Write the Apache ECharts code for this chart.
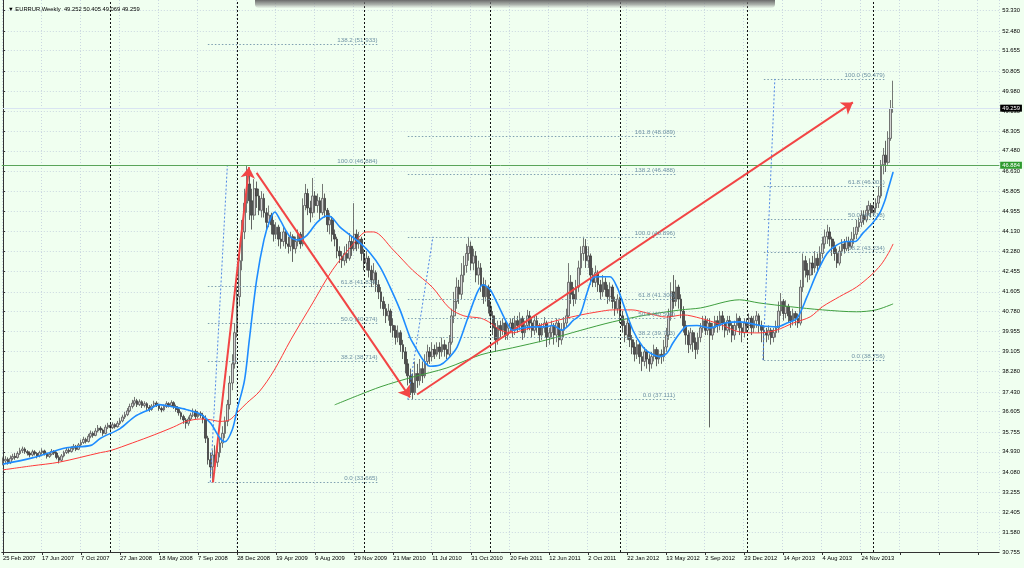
<!DOCTYPE html>
<html><head><meta charset="utf-8">
<script src="https://cdn.jsdelivr.net/npm/echarts@6/dist/echarts.min.js"></script>
<style>html,body{margin:0;padding:0;background:#f0fff0}#c{width:1024px;height:568px}</style>
</head><body><div id="c"></div>
<script>
// ---------- DATA (weekly EURRUR, bar 0 = 25 Feb 2007) ----------
const opens = [
34.50,34.55,34.62,34.48,34.66,34.74,34.70,34.86,34.98,35.05,
34.94,34.88,34.80,34.93,34.86,34.76,34.90,34.97,34.85,34.74,
34.83,34.95,34.88,34.70,34.58,34.76,34.90,35.00,34.94,35.08,
35.16,35.04,35.22,35.32,35.45,35.36,35.58,35.70,35.62,35.80,
35.92,35.84,35.70,35.96,36.04,35.94,36.06,35.98,36.12,36.22,
36.38,36.48,36.64,36.82,36.96,37.06,36.90,37.02,36.86,36.94,
36.78,36.70,36.84,36.96,36.88,36.74,36.68,36.82,36.94,36.86,
36.98,36.82,36.70,36.56,36.40,36.26,36.12,36.30,36.46,36.62,
36.40,36.54,36.46,36.30,35.50,34.60,34.30,34.80,34.50,34.90,
35.30,35.70,36.20,36.90,37.80,38.60,39.90,41.40,42.90,44.10,
45.30,46.10,45.40,44.80,45.90,45.60,45.00,45.50,44.90,44.50,
44.80,44.40,44.00,44.30,43.80,43.70,44.10,43.60,43.50,43.90,
43.40,43.70,44.00,43.60,45.20,45.70,45.10,44.90,45.60,45.20,
45.40,44.90,45.50,45.00,44.40,44.60,44.00,43.80,43.30,43.10,
42.90,43.20,43.00,43.70,43.40,44.00,43.60,43.80,43.20,42.80,
43.00,42.50,42.10,42.40,41.90,41.60,41.20,40.90,40.60,40.80,
40.20,40.00,39.70,39.90,39.40,39.10,38.60,38.10,37.80,37.40,
38.20,37.90,38.40,38.10,38.70,39.10,38.90,39.20,39.00,39.30,
39.10,39.40,39.20,39.00,39.50,40.60,41.20,41.80,41.50,42.30,
42.70,43.20,43.50,42.80,43.10,42.30,42.60,41.90,41.40,41.80,
41.00,40.60,40.10,39.60,40.20,40.00,40.30,39.80,40.10,40.30,
40.00,40.40,40.20,40.50,39.90,40.20,40.60,40.30,40.00,40.40,
40.20,39.80,40.10,40.30,39.70,39.90,40.20,39.80,40.30,39.60,
40.00,40.30,40.60,42.00,41.50,41.30,41.80,42.60,43.20,43.50,
42.90,43.10,42.30,42.00,42.40,41.90,41.60,42.00,41.70,41.40,
41.80,41.20,40.90,41.30,40.60,40.20,39.80,40.30,39.60,39.30,
39.00,39.40,38.90,38.70,39.10,38.80,38.60,38.90,39.20,38.80,
39.00,38.90,39.30,39.80,40.60,41.60,41.20,41.80,41.30,40.80,
40.20,39.80,39.40,39.90,39.50,39.20,39.70,40.10,40.40,40.00,
40.30,39.80,40.10,40.40,40.20,40.60,40.30,40.00,40.40,40.20,
39.80,40.20,40.50,40.10,39.90,40.30,40.20,40.50,40.10,40.40,
40.60,40.20,40.00,39.90,39.80,40.00,39.70,39.90,40.10,40.80,
41.20,40.70,41.00,40.60,40.40,40.70,40.50,40.30,41.80,42.90,
42.50,42.30,42.80,42.60,43.00,42.70,43.20,43.60,43.90,44.10,
43.80,43.50,43.20,42.80,43.30,43.60,43.40,43.70,43.50,43.80,
44.00,44.30,44.50,44.80,44.60,45.00,45.20,44.90,45.10,45.30,
45.60,46.90,47.30,47.00,48.00,49.252];
const closes = [
34.55,34.62,34.48,34.66,34.74,34.70,34.86,34.98,35.05,34.94,
34.88,34.80,34.93,34.86,34.76,34.90,34.97,34.85,34.74,34.83,
34.95,34.88,34.70,34.58,34.76,34.90,35.00,34.94,35.08,35.16,
35.04,35.22,35.32,35.45,35.36,35.58,35.70,35.62,35.80,35.92,
35.84,35.70,35.96,36.04,35.94,36.06,35.98,36.12,36.22,36.38,
36.48,36.64,36.82,36.96,37.06,36.90,37.02,36.86,36.94,36.78,
36.70,36.84,36.96,36.88,36.74,36.68,36.82,36.94,36.86,36.98,
36.82,36.70,36.56,36.40,36.26,36.12,36.30,36.46,36.62,36.40,
36.54,36.46,36.30,35.50,34.60,34.30,34.80,34.50,34.90,35.30,
35.70,36.20,36.90,37.80,38.60,39.90,41.40,42.90,44.10,45.30,
46.10,45.40,44.80,45.90,45.60,45.00,45.50,44.90,44.50,44.80,
44.40,44.00,44.30,43.80,43.70,44.10,43.60,43.50,43.90,43.40,
43.70,44.00,43.60,45.20,45.70,45.10,44.90,45.60,45.20,45.40,
44.90,45.50,45.00,44.40,44.60,44.00,43.80,43.30,43.10,42.90,
43.20,43.00,43.70,43.40,44.00,43.60,43.80,43.20,42.80,43.00,
42.50,42.10,42.40,41.90,41.60,41.20,40.90,40.60,40.80,40.20,
40.00,39.70,39.90,39.40,39.10,38.60,38.10,37.80,37.40,38.20,
37.90,38.40,38.10,38.70,39.10,38.90,39.20,39.00,39.30,39.10,
39.40,39.20,39.00,39.50,40.60,41.20,41.80,41.50,42.30,42.70,
43.20,43.50,42.80,43.10,42.30,42.60,41.90,41.40,41.80,41.00,
40.60,40.10,39.60,40.20,40.00,40.30,39.80,40.10,40.30,40.00,
40.40,40.20,40.50,39.90,40.20,40.60,40.30,40.00,40.40,40.20,
39.80,40.10,40.30,39.70,39.90,40.20,39.80,40.30,39.60,40.00,
40.30,40.60,42.00,41.50,41.30,41.80,42.60,43.20,43.50,42.90,
43.10,42.30,42.00,42.40,41.90,41.60,42.00,41.70,41.40,41.80,
41.20,40.90,41.30,40.60,40.20,39.80,40.30,39.60,39.30,39.00,
39.40,38.90,38.70,39.10,38.80,38.60,38.90,39.20,38.80,39.00,
38.90,39.30,39.80,40.60,41.60,41.20,41.80,41.30,40.80,40.20,
39.80,39.40,39.90,39.50,39.20,39.70,40.10,40.40,40.00,40.30,
39.80,40.10,40.40,40.20,40.60,40.30,40.00,40.40,40.20,39.80,
40.20,40.50,40.10,39.90,40.30,40.20,40.50,40.10,40.40,40.60,
40.20,40.00,39.90,39.80,40.00,39.70,39.90,40.10,40.80,41.20,
40.70,41.00,40.60,40.40,40.70,40.50,40.30,41.80,42.90,42.50,
42.30,42.80,42.60,43.00,42.70,43.20,43.60,43.90,44.10,43.80,
43.50,43.20,42.80,43.30,43.60,43.40,43.70,43.50,43.80,44.00,
44.30,44.50,44.80,44.60,45.00,45.20,44.90,45.10,45.30,45.60,
46.90,47.30,47.00,48.00,49.25,49.259];
const lows = [
34.38,34.45,34.40,34.42,34.58,34.60,34.65,34.80,34.88,34.85,
34.78,34.70,34.74,34.78,34.66,34.70,34.82,34.78,34.65,34.68,
34.78,34.80,34.62,34.45,34.52,34.70,34.84,34.86,34.90,35.00,
34.96,35.00,35.15,35.26,35.28,35.32,35.50,35.52,35.58,35.74,
35.72,35.60,35.66,35.88,35.84,35.88,35.90,35.94,36.05,36.16,
36.30,36.42,36.58,36.74,36.86,36.80,36.84,36.76,36.78,36.68,
36.60,36.64,36.78,36.80,36.64,36.58,36.62,36.76,36.78,36.80,
36.72,36.60,36.44,36.28,36.10,35.90,36.02,36.22,36.38,36.30,
36.32,36.34,36.12,35.30,34.40,33.90,33.665,34.10,34.30,34.70,
35.10,35.50,36.00,36.70,37.50,38.40,39.70,41.00,42.50,43.80,
44.90,44.60,44.20,44.60,45.10,44.80,44.70,44.70,44.20,44.30,
44.00,43.70,43.80,43.50,43.40,43.50,43.40,43.20,43.30,42.85,
43.20,43.50,43.40,43.50,45.00,44.80,44.50,44.70,44.90,44.90,
44.60,44.80,44.70,44.10,44.00,43.70,43.50,43.00,42.80,42.60,
42.70,42.80,42.90,43.10,43.30,43.30,43.40,42.90,42.50,42.50,
42.20,41.80,41.90,41.60,41.30,40.90,40.60,40.30,40.40,39.90,
39.70,39.40,39.50,39.10,38.80,38.20,37.70,37.30,37.111,37.30,
37.60,37.70,37.80,38.00,38.50,38.60,38.70,38.80,38.90,38.80,
38.90,38.90,38.80,38.90,39.40,40.30,40.90,41.10,41.30,42.00,
42.40,42.90,42.50,42.50,42.00,41.90,41.60,41.10,41.20,40.70,
40.20,39.80,39.10,39.40,39.70,39.80,39.60,39.60,39.90,39.70,
39.80,39.90,40.00,39.60,39.70,40.00,40.00,39.70,39.80,39.90,
39.50,39.60,39.90,39.30,39.40,39.70,39.40,39.50,39.30,39.40,
39.70,40.10,40.50,41.10,41.00,41.10,41.60,42.30,42.90,42.60,
42.60,41.90,41.80,41.80,41.60,41.30,41.40,41.40,41.10,41.20,
40.90,40.60,40.70,40.30,39.90,39.50,39.60,39.30,39.00,38.70,
38.80,38.60,38.30,38.50,38.40,38.27,38.40,38.70,38.50,38.60,
38.60,38.70,39.10,39.60,40.40,40.90,41.00,40.90,40.50,39.90,
39.40,39.05,39.20,39.10,38.80,39.00,39.50,39.90,39.80,39.80,
35.95,39.60,39.90,39.90,40.00,40.00,39.70,39.80,39.90,39.50,
39.60,40.00,39.80,39.50,39.70,39.90,40.00,39.80,39.90,40.10,
39.90,39.50,38.756,39.50,39.60,39.40,39.50,39.70,39.90,40.60,
40.40,40.50,40.30,40.10,40.20,40.20,40.10,40.20,41.60,42.20,
42.00,42.10,42.30,42.40,42.40,42.60,43.00,43.40,43.60,43.50,
43.10,42.90,42.60,42.70,43.10,43.20,43.30,43.30,43.40,43.60,
43.80,44.10,44.30,44.40,44.50,44.80,44.70,44.80,44.90,45.10,
45.50,46.50,46.60,46.90,47.90,49.069];
const highs = [
34.70,34.75,34.70,34.78,34.85,34.88,34.95,35.10,35.15,35.12,
35.00,34.95,35.02,35.00,34.92,34.98,35.08,35.02,34.90,34.92,
35.05,35.00,34.94,34.78,34.84,34.98,35.10,35.08,35.16,35.26,
35.22,35.30,35.44,35.56,35.52,35.68,35.82,35.78,35.92,36.05,
36.00,35.90,36.06,36.14,36.10,36.16,36.12,36.22,36.34,36.48,
36.60,36.76,36.94,37.10,37.22,37.14,37.12,37.08,37.04,37.00,
36.88,36.92,37.06,37.04,36.94,36.82,36.90,37.04,37.00,37.08,
37.04,36.90,36.76,36.62,36.48,36.34,36.40,36.56,36.74,36.70,
36.64,36.62,36.56,36.45,35.60,34.90,35.00,35.20,35.10,35.50,
36.00,36.40,37.10,38.10,39.00,40.30,41.80,43.30,44.60,45.90,
46.884,46.60,45.90,46.30,46.20,45.90,45.80,45.70,45.10,45.20,
44.90,44.60,44.50,44.40,44.10,44.30,44.20,43.90,44.10,44.00,
43.90,44.20,44.10,45.50,46.10,45.90,45.40,46.35,45.80,45.70,
45.55,46.10,45.70,45.10,44.90,44.75,44.20,43.90,43.50,43.30,
43.50,43.60,44.05,43.90,45.30,44.20,44.10,43.90,43.40,43.30,
43.10,42.70,42.80,42.50,42.10,41.80,41.40,41.10,41.10,40.90,
40.50,40.20,40.20,40.00,39.60,39.30,38.80,38.40,38.20,38.70,
38.60,38.80,38.70,39.00,39.40,39.30,39.50,39.40,39.50,39.50,
39.70,39.60,39.40,39.80,40.90,41.60,42.20,42.10,42.80,43.10,
43.60,43.896,43.70,43.40,43.30,42.90,42.80,42.20,42.10,41.90,
41.20,40.80,40.30,40.40,40.40,40.50,40.40,40.30,40.50,40.50,
40.60,40.60,40.75,40.60,40.40,40.85,40.80,40.50,40.60,40.60,
40.30,40.30,40.55,40.40,40.10,40.40,40.30,40.50,40.40,40.30,
40.55,40.90,42.80,42.30,41.80,42.10,42.90,43.50,43.90,43.80,
43.50,43.20,42.60,42.70,42.50,42.10,42.30,42.20,41.90,42.00,
41.90,41.40,41.50,41.40,40.80,40.40,40.50,40.40,39.80,39.50,
39.60,39.50,39.10,39.30,39.20,39.00,39.10,39.40,39.30,39.20,
39.20,39.60,40.10,40.90,42.00,42.30,42.10,41.90,41.50,41.00,
40.40,40.00,40.10,40.00,39.70,39.90,40.30,40.60,40.60,40.50,
40.50,40.30,40.60,40.60,40.80,40.80,40.50,40.60,40.60,40.30,
40.40,40.70,40.60,40.30,40.50,40.50,40.70,40.60,40.60,40.80,
40.70,40.40,40.20,40.10,40.20,40.10,40.10,40.40,41.20,41.55,
41.30,41.25,41.10,40.80,40.90,40.80,40.70,42.10,43.20,43.10,
42.80,43.00,43.10,43.30,43.20,43.50,43.90,44.20,44.40,44.30,
43.90,43.70,43.40,43.50,43.80,43.80,43.90,43.90,44.10,44.30,
44.60,44.70,45.00,45.00,45.20,45.40,45.30,45.30,45.50,46.00,
47.10,47.60,47.90,48.30,49.60,50.405];

// moving averages: [bar index, price]
const blueMA = [[0,34.42],[12,34.68],[26,35.1],[36,35.2],[40,35.5],[48,35.9],[54,36.4],[60,36.7],[64,36.9],[70,36.8],[75,36.7],[81,36.5],[85,36.14],[89,35.5],[91,35.35],[94,35.85],[96,36.7],[99,37.9],[101,39.6],[104,42.1],[107,43.77],[109.5,44.6],[111.5,44.93],[113.6,44.6],[117.7,43.9],[121,43.77],[124.7,43.97],[128.8,44.5],[132.9,44.77],[134.9,44.7],[138.2,44.3],[142.3,43.97],[146.4,43.64],[150.5,43.22],[154.6,42.64],[158.7,41.8],[162.8,40.85],[166.9,39.7],[168.1,39.47],[172.2,38.77],[175.1,38.5],[179.2,38.55],[182.1,38.77],[186.2,39.3],[190.3,40.43],[194.4,41.56],[196.8,41.9],[199.7,41.7],[202.6,41.14],[206.7,40.3],[209.1,40.0],[213.2,40.1],[217.3,40.14],[221.4,40.14],[225.5,40.2],[229.2,40.0],[231.3,40.14],[233.7,40.4],[236.6,40.64],[239.5,41.56],[241.9,42.18],[244.8,42.23],[248.9,42.23],[251.8,41.8],[254.2,41.14],[258.3,40.0],[262.4,39.3],[265.3,39.05],[269.4,38.9],[272.3,39.05],[274.7,39.47],[277.6,39.89],[280.5,40.18],[284.6,40.2],[290,40.1],[296,40.3],[302.2,40.35],[310.4,40.2],[317.4,40.14],[321.5,40.3],[325.6,40.5],[329.7,41.4],[333.8,42.4],[337.9,43.2],[342,43.56],[346.1,43.7],[349.4,43.7],[352.6,44.05],[356.7,44.48],[359.6,44.9],[361.7,45.43],[362.5,45.72],[365,46.6]];
const redMA = [[0,34.18],[12,34.35],[23,34.5],[40,34.9],[44,34.98],[53,35.3],[62,35.64],[70,35.97],[75,36.2],[81,36.3],[85,36.27],[89,36.2],[93,36.27],[96,36.56],[100,36.97],[105,37.43],[111,38.3],[118,39.6],[127,41.14],[135,42.5],[144,43.64],[149,44.1],[152,44.1],[160,43.35],[168,42.5],[176,41.8],[183,40.93],[189,40.6],[196,40.5],[200,40.3],[204,40.0],[209,39.89],[213,40.0],[220,40.2],[228,40.43],[237,40.64],[244,40.77],[250,40.85],[258,40.85],[264,40.72],[272,40.55],[279,40.64],[286,40.5],[294,40.25],[302,39.93],[310,39.89],[317,40.0],[324,40.3],[331,40.56],[336,40.98],[343,41.4],[350,41.8],[356,42.3],[360,42.73],[363,43.2],[365,43.6]];
const greenMA = [[136,36.89],[146,37.3],[155,37.65],[168,38.05],[182,38.43],[196,38.98],[209,39.27],[223,39.6],[237,40.0],[250,40.35],[264,40.64],[278,40.85],[286,40.93],[302,41.27],[310,41.14],[323,40.98],[336,40.85],[350,40.77],[358,40.85],[365,41.1]];

// axis ticks
const priceTicks = [30.755,31.580,32.405,33.255,34.080,34.930,35.755,36.605,37.430,38.280,39.105,39.955,40.780,41.605,42.455,43.280,44.130,44.955,45.805,46.630,47.480,48.305,49.130,49.980,50.805,51.655,52.480,53.330];
const dateTicks = ['25 Feb 2007','17 Jun 2007','7 Oct 2007','27 Jan 2008','18 May 2008','7 Sep 2008','28 Dec 2008','19 Apr 2009','9 Aug 2009','29 Nov 2009','21 Mar 2010','11 Jul 2010','31 Oct 2010','20 Feb 2011','12 Jun 2011','2 Oct 2011','22 Jan 2012','13 May 2012','2 Sep 2012','23 Dec 2012','14 Apr 2013','4 Aug 2013','24 Nov 2013'];
const yearSeparators = [44, 96, 148, 200, 253, 305, 357];

// drawn objects: fibonacci sets, arrows, horizontal line, bid
const fibSets = [
  {from: 84, to: 154, trend: [85, 33.665, 92, 46.884],
   levels: [[0,33.665],[38.2,38.714],[50,40.274],[61.8,41.834],[100,46.884],[138.2,51.933]]},
  {from: 166, to: 276, trend: [166, 37.111, 176.3, 43.896],
   levels: [[0,37.111],[38.2,39.703],[50,40.504],[61.8,41.304],[100,43.896],[138.2,46.488],[161.8,48.089]]},
  {from: 312, to: 362, trend: [311.6, 38.756, 316.5, 50.479],
   levels: [[0,38.756],[38.2,43.234],[50,44.618],[61.8,46.001],[100,50.479]]}
];
const arrows = [[86.1,33.66,100.9,46.8],[104,46.56,166.9,37.2],[169.8,37.32,348.5,49.5]];
const hLinePrice = 46.884;
const bidPrice = 49.259;
const titleText = '\u25BC EURRUR,Weekly  49.252 50.405 49.069 49.259';

const SLOTS = 409;
const slots = Array.from({length: SLOTS}, (_, i) => String(i));
const candleData = opens.map((o, i) => [o, closes[i], lows[i], highs[i]]);

const FONT = 'Liberation Sans, Arial, sans-serif';
const FS = 5.8;
const every16 = (idx) => idx % 16 === 0;

const fibLineData = [];
fibSets.forEach(f => {
  f.levels.forEach(lv => {
    fibLineData.push([
      {coord: [f.from, lv[1]], label: {formatter: lv[0].toFixed(1) + ' (' + lv[1].toFixed(3) + ')'}},
      {coord: [f.to, lv[1]]}
    ]);
  });
  fibLineData.push([
    {coord: [f.trend[0], f.trend[1]], lineStyle: {color: '#4f86e6', type: [2, 2], width: 1}, label: {show: false}},
    {coord: [f.trend[2], f.trend[3]]}
  ]);
});
const arrowData = arrows.map(a => [{coord: [a[0], a[1]]}, {coord: [a[2], a[3]]}]);

const chart = echarts.init(document.getElementById('c'), null, {renderer: 'canvas', width: 1024, height: 568});
chart.setOption({
  animation: false,
  backgroundColor: '#f0fff0',
  textStyle: {fontFamily: FONT},
  title: {text: titleText, left: 3, top: 1,
    textStyle: {fontSize: FS, fontWeight: 'normal', color: '#000', fontFamily: FONT}},
  graphic: [{type: 'rect', shape: {x: 255, y: 0, width: 520, height: 8, r: [0, 0, 4, 4]}, z: 100,
    style: {fill: new echarts.graphic.LinearGradient(0, 0, 0, 1, [{offset: 0, color: '#6a6a6a'}, {offset: 0.6, color: 'rgba(120,120,120,0.55)'}, {offset: 1, color: 'rgba(160,160,160,0.1)'}])}}],
  grid: {left: 1.8, right: 24.8, top: 0, bottom: 16, containLabel: false},
  xAxis: [{
    type: 'category', data: slots, boundaryGap: true,
    axisLine: {show: true, lineStyle: {color: '#333', width: 1}},
    axisTick: {show: true, interval: every16, alignWithLabel: true, length: 3, lineStyle: {color: '#333'}},
    axisLabel: {interval: every16, align: 'left', margin: 3, fontSize: FS, color: '#000', fontFamily: FONT,
      formatter: (v, idx) => (idx % 16 === 0 ? (dateTicks[idx / 16] || '') : '')},
    splitLine: {show: true, interval: every16, lineStyle: {color: '#cad7e0', type: [1, 2], width: 1}}
  }, {
    type: 'value', min: -0.5, max: SLOTS - 0.5, show: false, splitLine: {show: false}
  }],
  yAxis: [{
    type: 'value', position: 'right', min: 30.755, max: 53.77, scale: true,
    axisLine: {show: true, lineStyle: {color: '#333', width: 1}},
    axisTick: {show: true, customValues: priceTicks, length: 2, lineStyle: {color: '#333'}},
    axisLabel: {customValues: priceTicks, margin: 3, fontSize: FS, color: '#000', fontFamily: FONT,
      formatter: v => v.toFixed(3)},
    splitLine: {show: true, lineStyle: {color: '#cad7e0', type: [1, 2], width: 1}}
  }],
  series: [
    {
      name: 'separators', type: 'line', xAxisIndex: 1, data: [], silent: true, z: 1,
      markLine: {silent: true, symbol: ['none', 'none'], animation: false,
        lineStyle: {color: '#111', type: [2, 2], width: 1}, label: {show: false},
        data: yearSeparators.map(x => ({xAxis: x}))}
    },
    {
      name: 'fibo', type: 'line', xAxisIndex: 1, data: [], silent: true, z: 2,
      markLine: {silent: true, symbol: ['none', 'none'], animation: false,
        lineStyle: {color: '#7e9fb0', type: [1.5, 2], width: 1},
        label: {show: true, position: 'insideEndTop', distance: 1, fontSize: 6.2, color: '#6f92a4', fontFamily: FONT},
        data: fibLineData}
    },
    {
      name: 'EURRUR', type: 'candlestick', xAxisIndex: 0, data: candleData, barWidth: 2.2, z: 3,
      itemStyle: {color: '#d4d4d4', color0: '#505050', borderColor: '#555555', borderColor0: '#3c3c3c', borderWidth: 0.8},
      markLine: {silent: true, symbol: ['none', 'none'], animation: false,
        data: [
          {yAxis: bidPrice, lineStyle: {color: '#d9e4f2', type: 'solid', width: 1},
           label: {show: true, position: 'end', distance: 1, formatter: bidPrice.toFixed(3), backgroundColor: '#000',
             color: '#fff', padding: [1, 2, 0, 2], fontSize: FS, fontFamily: FONT}},
          {yAxis: hLinePrice, lineStyle: {color: '#5aa55a', type: 'solid', width: 1},
           label: {show: true, position: 'end', distance: 1, formatter: hLinePrice.toFixed(3), backgroundColor: '#2f9a2f',
             color: '#fff', padding: [1, 2, 0, 2], fontSize: FS, fontFamily: FONT}}
        ]}
    },
    {name: 'MA long', type: 'line', xAxisIndex: 1, data: greenMA, smooth: 0.3, symbol: 'none', z: 4,
      lineStyle: {color: '#3f9f3f', width: 1}},
    {name: 'MA mid', type: 'line', xAxisIndex: 1, data: redMA, smooth: 0.3, symbol: 'none', z: 4,
      lineStyle: {color: '#ff3a3a', width: 1}},
    {name: 'MA fast', type: 'line', xAxisIndex: 1, data: blueMA, smooth: 0.3, symbol: 'none', z: 5,
      lineStyle: {color: '#1e8cff', width: 1.6}},
    {
      name: 'arrows', type: 'line', xAxisIndex: 1, data: [], silent: true, z: 6,
      markLine: {silent: true, symbol: ['none', 'arrow'], symbolSize: 11, animation: false,
        lineStyle: {color: '#f24545', type: 'solid', width: 2}, label: {show: false},
        data: arrowData}
    }
  ]
});
</script>
</body></html>
